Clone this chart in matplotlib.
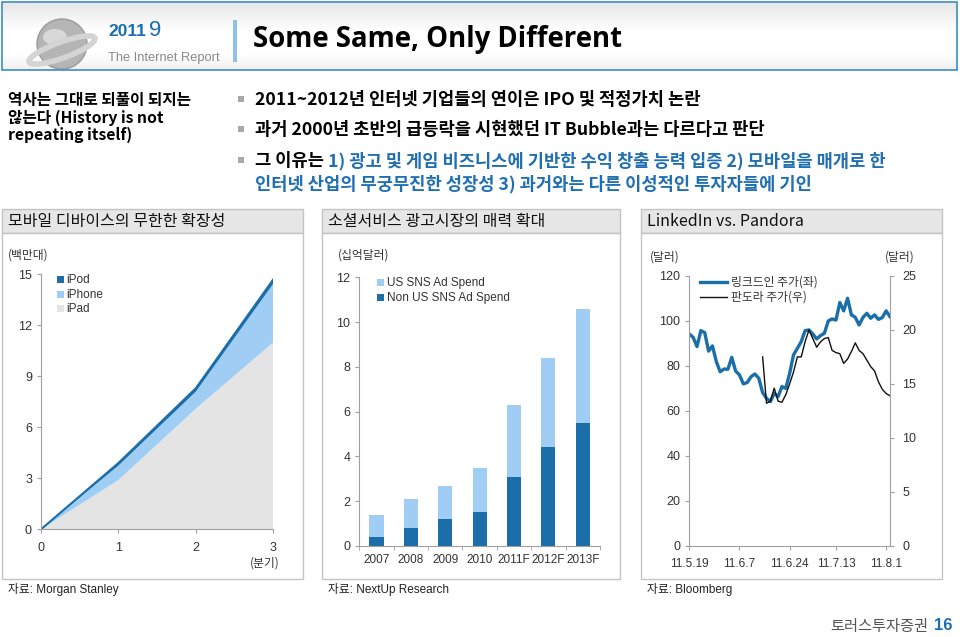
import matplotlib
matplotlib.use("Agg")
import matplotlib.pyplot as plt
import numpy as np
from matplotlib.patches import Rectangle, Circle, Ellipse

plt.rcParams["font.family"] = ["Liberation Sans", "Noto Sans CJK KR", "DejaVu Sans"]

KR = ["Noto Sans CJK KR", "DejaVu Sans"]
LAT = ["Liberation Sans", "Noto Sans CJK KR", "DejaVu Sans"]

# chart 1: Apple device sales after launch (million units)
quarters = [0, 1, 2, 3]
ipad = [0, 2.9, 7.1, 11.0]
iphone = [0, 0.85, 1.0, 3.45]
ipod = [0, 0.15, 0.2, 0.25]

# chart 2: SNS ad spend (USD bn)
years = ["2007", "2008", "2009", "2010", "2011F", "2012F", "2013F"]
non_us = [0.4, 0.8, 1.2, 1.5, 3.1, 4.4, 5.5]
us = [1.0, 1.3, 1.5, 2.0, 3.2, 4.0, 5.1]

# chart 3: LinkedIn vs Pandora share price (trading-day index from 11.5.19)
date_ticks = [0, 13, 26, 38, 51]
date_labels = ["11.5.19", "11.6.7", "11.6.24", "11.7.13", "11.8.1"]
linkedin = [94.2, 92.7, 88.6, 95.7, 94.8, 86.6, 88.9, 81.9, 77.4, 78.6,
            78.5, 83.8, 77.7, 76.0, 72.0, 72.6, 75.2, 76.4, 74.5, 68.1,
            65.6, 64.1, 67.8, 66.3, 70.8, 70.0, 76.7, 84.9, 87.8, 90.8,
            95.7, 96.0, 94.2, 92.0, 93.5, 94.5, 100.0, 100.9, 100.4, 108.2,
            104.5, 110.1, 102.7, 101.6, 98.2, 101.6, 103.4, 101.2, 102.7, 100.7,
            101.5, 104.5, 101.9]
pandora_start = 19
pandora = [17.5, 13.2, 13.4, 14.6, 13.4, 13.3, 14.0, 15.0, 16.1, 17.5,
           17.5, 18.9, 20.0, 19.2, 18.4, 18.9, 19.2, 19.3, 18.1, 17.9,
           17.8, 16.9, 17.3, 18.0, 18.8, 18.1, 17.8, 17.2, 16.6, 16.2,
           15.2, 14.5, 14.1, 13.9]

W, H = 960, 637
DARK = "#1b6ea9"
LIGHT = "#9fcdf3"
GREY_AREA = "#e4e4e4"
TXT = "#333333"


def px(l, t, r, b):
    return [l / W, 1 - b / H, (r - l) / W, (b - t) / H]


fig = plt.figure(figsize=(W / 100, H / 100), dpi=100)
bg = fig.add_axes([0, 0, 1, 1])
bg.set_xlim(0, W)
bg.set_ylim(H, 0)
bg.axis("off")

# header box with soft gradient
grad = np.concatenate([np.linspace(0.90, 1.0, 30), np.ones(20), np.linspace(1.0, 0.94, 18)])
bg.imshow(grad[:, None], cmap="gray", vmin=0, vmax=1, aspect="auto",
          extent=(2, 957, 70, 2), zorder=0)
bg.add_patch(Rectangle((2, 2), 955, 68, fill=False, ec="#3d8cc4", lw=1.2, zorder=2))
# globe-ish logo
bg.add_patch(Circle((62, 44), 25, fc="#b5b5b5", ec="#9a9a9a", lw=1, zorder=1))
bg.add_patch(Ellipse((55, 37), 24, 16, fc="#d8d8d8", ec="none", zorder=1))
bg.add_patch(Ellipse((62, 50), 70, 16, angle=-20, fill=False, ec="#d4d4d4", lw=4, zorder=1))
bg.text(108, 36, "2011", color="#1a6db4", fontsize=12.5, fontweight="bold", family=LAT, va="baseline")
bg.text(149, 36, "9", color="#1a6db4", fontsize=16, family=LAT, va="baseline")
bg.text(108, 61, "The Internet Report", color="#8a8a8a", fontsize=9.3, family=LAT, va="baseline")
bg.add_patch(Rectangle((233, 20), 4, 42, fc="#8ec2ea", ec="none"))
bg.text(253, 47, "Some Same, Only Different", fontsize=19.8, fontweight="bold",
        family=["Open Sans", "DejaVu Sans"], va="baseline", color="black")

# left intro text
for i, s in enumerate(["역사는 그대로 되풀이 되지는", "않는다 (History is not", "repeating itself)"]):
    bg.text(8, 100 + i * 17.5, s, fontsize=11.3, fontweight="bold", family=KR, va="center")

# bullets
FS = 12.7
bullets = [(100, "2011~2012년 인터넷 기업들의 연이은 IPO 및 적정가치 논란"),
           (130, "과거 2000년 초반의 급등락을 시현했던 IT Bubble과는 다르다고 판단")]
for y, s in bullets:
    bg.add_patch(Rectangle((238, y - 4), 6, 6, fc="#a8a8a8", ec="none"))
    bg.text(255, y, s, fontsize=FS, fontweight="bold", family=KR, va="center")
bg.add_patch(Rectangle((238, 157), 6, 6, fc="#a8a8a8", ec="none"))
t = bg.text(255, 161, "그 이유는 ", fontsize=FS, fontweight="bold", family=KR, va="center")
bg.annotate("1) 광고 및 게임 비즈니스에 기반한 수익 창출 능력 입증 2) 모바일을 매개로 한",
            xycoords=t, xy=(1, 0.5), va="center", fontsize=FS, fontweight="bold",
            family=KR, color="#1f6fb2")
bg.text(255, 184, "인터넷 산업의 무궁무진한 성장성 3) 과거와는 다른 이성적인 투자자들에 기인",
        fontsize=FS, fontweight="bold", family=KR, va="center", color="#1f6fb2")

# section panels
panels = [(2, 303, "모바일 디바이스의 무한한 확장성", "자료: Morgan Stanley"),
          (322, 620, "소셜서비스 광고시장의 매력 확대", "자료: NextUp Research"),
          (641, 942, "LinkedIn vs. Pandora", "자료: Bloomberg")]
for l, r, title, src in panels:
    bg.add_patch(Rectangle((l, 209), r - l, 24, fc="#e6e6e6", ec="#c4c4c4", lw=1))
    bg.add_patch(Rectangle((l, 233), r - l, 346, fc="white", ec="#c4c4c4", lw=1))
    bg.text(l + 6, 221.5, title, fontsize=11.5, family=KR, va="center", color="#111111")
    bg.text(l + 6, 590, src, fontsize=8.5, family=LAT, va="center", color="#222222")

# footer
bg.text(928, 626, "토러스투자증권", fontsize=11, family=KR, va="center", ha="right", color="#555555")
bg.text(934, 626, "16", fontsize=12, fontweight="bold", family=LAT, va="center", color="#1a6db4")


def style_axis(ax):
    for s in ["top", "right"]:
        ax.spines[s].set_visible(False)
    for s in ["left", "bottom"]:
        ax.spines[s].set_color("#a0a0a0")
        ax.spines[s].set_linewidth(0.8)
    ax.tick_params(colors="#a0a0a0", labelcolor=TXT, length=3, width=0.8, labelsize=9)
    ax.set_facecolor("none")


# chart 1: stacked area
ax1 = fig.add_axes(px(41, 274.3, 273.3, 529.3))
ax1.stackplot(quarters, ipad, iphone, ipod, colors=[GREY_AREA, LIGHT, DARK], lw=0)
top = np.array(ipad) + np.array(iphone) + np.array(ipod)
ax1.plot(quarters, top, color=DARK, lw=1.5)
ax1.set_xlim(0, 3)
ax1.set_ylim(0, 15)
ax1.set_xticks(quarters)
ax1.set_yticks([0, 3, 6, 9, 12, 15])
style_axis(ax1)
ax1.tick_params(axis="x", pad=6)
bg.text(8, 255, "(백만대)", fontsize=8.5, family=KR, va="center", color=TXT)
bg.text(265, 563, "(분기)", fontsize=8.5, family=KR, va="center", ha="center", color=TXT)
for i, (lab, c) in enumerate([("iPod", DARK), ("iPhone", LIGHT), ("iPad", GREY_AREA)]):
    y = 280 + i * 14.5
    bg.add_patch(Rectangle((57, y - 4), 7, 7, fc=c, ec="none"))
    bg.text(66, y, lab, fontsize=8.5, family=LAT, va="center", color=TXT)

# chart 2: stacked bars
ax2 = fig.add_axes(px(359.3, 277.3, 600, 546))
xpos = np.arange(len(years))
ax2.bar(xpos, non_us, width=0.41, color=DARK)
ax2.bar(xpos, us, width=0.41, bottom=non_us, color=LIGHT)
ax2.set_xlim(-0.5, len(years) - 0.5)
ax2.set_ylim(0, 12)
ax2.set_yticks(range(0, 13, 2))
ax2.set_xticks(xpos)
ax2.set_xticklabels(years)
style_axis(ax2)
ax2.tick_params(axis="x", length=0, labelsize=8.5, pad=6)
ax2.set_xticks(np.arange(-0.5, len(years), 1), minor=True)
ax2.tick_params(axis="x", which="minor", length=3, color="#a0a0a0")
bg.text(338, 255, "(십억달러)", fontsize=8.5, family=KR, va="center", color=TXT)
for i, (lab, c) in enumerate([("US SNS Ad Spend", LIGHT), ("Non US SNS Ad Spend", DARK)]):
    y = 283 + i * 15
    bg.add_patch(Rectangle((377, y - 4), 7, 7, fc=c, ec="none"))
    bg.text(387, y, lab, fontsize=8.5, family=LAT, va="center", color=TXT)

# chart 3: dual axis lines
ax3 = fig.add_axes(px(689.3, 276, 890, 545.7))
ax3.plot(range(len(linkedin)), linkedin, color="#1a6fa8", lw=2.4)
ax3.set_xlim(0, 52)
ax3.set_ylim(0, 120)
ax3.set_yticks(range(0, 121, 20))
ax3.set_xticks(date_ticks)
ax3.set_xticklabels(date_labels)
style_axis(ax3)
ax3.tick_params(axis="x", labelsize=8.5, pad=6)
ax3r = ax3.twinx()
ax3r.plot(range(pandora_start, pandora_start + len(pandora)), pandora, color="#111111", lw=1.0)
ax3r.set_ylim(0, 25)
ax3r.set_yticks(range(0, 26, 5))
for s in ["top", "left", "bottom"]:
    ax3r.spines[s].set_visible(False)
ax3r.spines["right"].set_color("#a0a0a0")
ax3r.spines["right"].set_linewidth(0.8)
ax3r.tick_params(colors="#a0a0a0", labelcolor=TXT, length=3, width=0.8, labelsize=9, pad=6)
bg.text(650, 257, "(달러)", fontsize=8.5, family=KR, va="center", color=TXT)
bg.text(885, 257, "(달러)", fontsize=8.5, family=KR, va="center", color=TXT)
bg.plot([700, 727], [282, 282], color="#1a6fa8", lw=2.4)
bg.plot([700, 727], [297, 297], color="#111111", lw=1.0)
bg.text(731, 282, "링크드인 주가(좌)", fontsize=8.5, family=KR, va="center", color=TXT)
bg.text(731, 297, "판도라 주가(우)", fontsize=8.5, family=KR, va="center", color=TXT)

fig.savefig("out.png", dpi=100)
